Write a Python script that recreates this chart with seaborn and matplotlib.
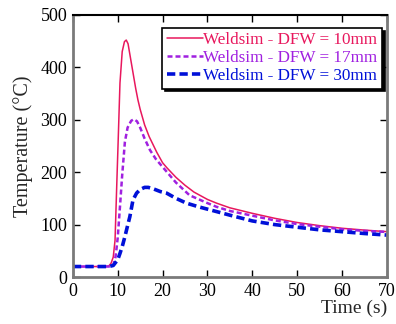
import matplotlib
matplotlib.use("Agg")
import matplotlib.pyplot as plt
import seaborn as sns
import pandas as pd

t_10 = [0, 7, 8, 8.5, 9, 9.4, 9.8, 10.1, 10.5, 11, 11.5, 11.9, 12.3, 13, 14, 14.5, 15, 16, 17, 18.7, 20, 21, 23, 25, 27, 30, 32, 35, 40, 45, 50, 55, 60, 65, 70]
y_10 = [20, 20, 21, 26, 38, 70, 180, 260, 370, 430, 449, 452, 445, 410, 360, 338, 320, 290, 268, 238, 218, 208, 190, 175, 162, 148, 141, 132, 121.5, 112, 104, 98, 93, 89.5, 86.5]

t_17 = [0, 8, 9, 9.5, 9.7, 10, 10.5, 11, 11.6, 12.2, 13, 13.6, 14.3, 15, 16, 17.2, 18.5, 20, 23, 26, 30, 32, 35, 40, 45, 50, 55, 60, 65, 70]
y_17 = [20, 20, 22, 38, 52, 75, 134, 195, 258, 285, 298, 301, 297, 285, 264, 242, 225, 210, 180, 156, 141, 134, 126, 117, 108, 101, 96, 91, 88, 86]

t_30 = [0, 8, 9, 10, 10.5, 11, 11.6, 12.2, 12.7, 13.4, 14.2, 15, 16, 16.8, 18, 19.5, 20.9, 23, 25.3, 28, 31.3, 35, 40, 45, 50, 55, 60, 65, 70]
y_30 = [20, 20, 22, 33, 45, 58, 77, 98, 115, 147, 160, 167, 171, 171, 168, 163, 160, 150, 141, 134, 126.5, 118, 107, 100, 95, 90, 86.5, 83, 80]

labels = ["Weldsim - DFW = 10mm", "Weldsim - DFW = 17mm", "Weldsim - DFW = 30mm"]
colors = ["#E8175D", "#A020E0", "#0010D8"]

sns.set_style("ticks")
plt.rcParams['font.family'] = ['Liberation Serif', 'DejaVu Serif']

fig = plt.figure(figsize=(3.96, 3.24), dpi=100)
ax = fig.add_axes([0.184, 0.145, 0.793, 0.809])

styles = [dict(lw=1.1, ls='-'), dict(lw=1.8, ls=(0, (2.0, 1.2))), dict(lw=2.6, ls=(0, (2.3, 1.15)))]
for t, y, lab, c, st in zip([t_10, t_17, t_30], [y_10, y_17, y_30], labels, colors, styles):
    df = pd.DataFrame({"t": t, "y": y})
    sns.lineplot(data=df, x="t", y="y", ax=ax, color=c, label=lab, linewidth=st['lw'], linestyle=st['ls'])

ax.set_xlim(0, 70)
ax.set_ylim(0, 500)
ax.set_xticks(range(0, 71, 10))
ax.set_yticks(range(0, 501, 100))
ax.tick_params(direction='in', length=5, width=1, top=True, right=True, labelsize=13, colors='black', pad=4)
for name, s in ax.spines.items():
    s.set_color('#7a7a7a')
    s.set_linewidth(2.0)
ax.spines['top'].set_color('black')
ax.spines['top'].set_linewidth(1.5)
ax.set_xlabel("Time (s)", fontsize=14, loc='right', labelpad=0)
ax.set_ylabel("Temperature (°C)", fontsize=14.5, labelpad=5)

leg = ax.legend(loc='upper right', bbox_to_anchor=(0.984, 0.95), fontsize=12.3, frameon=True, fancybox=False,
                shadow={'color': 'black', 'alpha': 1}, handlelength=2.1, handletextpad=0.05, borderpad=0.25,
                labelspacing=0.12, borderaxespad=0)
leg.get_frame().set_edgecolor('black')
leg.get_frame().set_linewidth(1.2)
for txt, c in zip(leg.get_texts(), colors):
    txt.set_color(c)

fig.savefig("out.png", dpi=100)
